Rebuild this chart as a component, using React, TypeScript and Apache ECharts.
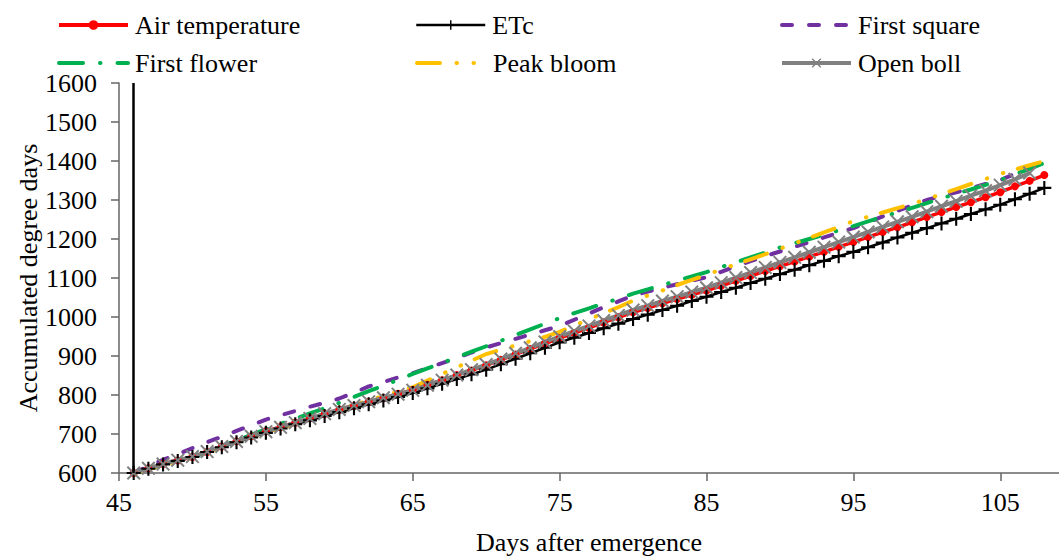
import React, { useEffect, useRef } from "react";
import * as echarts from "echarts";

const days = [
  46, 47, 48, 49, 50, 51, 52, 53, 54, 55, 56, 57, 58, 59, 60, 61, 62, 63, 64, 65, 66,
  67, 68, 69, 70, 71, 72, 73, 74, 75, 76, 77, 78, 79, 80, 81, 82, 83, 84, 85, 86, 87,
  88, 89, 90, 91, 92, 93, 94, 95, 96, 97, 98, 99, 100, 101, 102, 103, 104, 105, 106,
  107, 108,
];

const airTemperature = [
  600, 612, 623, 632, 641, 654, 668, 681, 694, 707, 718, 729, 740, 751, 762, 772, 782,
  792, 803, 813, 826, 838, 851, 863, 876, 890, 904, 918, 932, 946, 959, 972, 986, 999,
  1012, 1023, 1035, 1046, 1057, 1068, 1080, 1093, 1105, 1118, 1130, 1142, 1155, 1167,
  1180, 1192, 1205, 1218, 1230, 1243, 1256, 1269, 1282, 1294, 1307, 1320, 1335, 1349,
  1364,
];

const etc = [
  600, 611, 622, 631, 641, 654, 666, 679, 691, 703, 714, 725, 735, 746, 756, 766, 776,
  786, 795, 805, 817, 829, 841, 853, 865, 879, 893, 907, 921, 935, 947, 959, 971, 983,
  995, 1006, 1018, 1029, 1041, 1052, 1064, 1075, 1087, 1098, 1110, 1121, 1133, 1144,
  1156, 1167, 1179, 1191, 1204, 1216, 1228, 1240, 1252, 1264, 1276, 1288, 1302, 1316,
  1331,
];

const firstSquare = [
  600, 617, 634, 648, 664, 679, 693, 708, 722, 737, 748, 759, 770, 780, 791, 806, 822,
  833, 845, 856, 869, 882, 895, 909, 922, 933, 944, 955, 966, 977, 993, 1009, 1025,
  1040, 1055, 1065, 1075, 1084, 1093, 1102, 1116, 1130, 1143, 1156, 1168, 1180, 1192,
  1204, 1216, 1228, 1243, 1258, 1272, 1286, 1300, 1310, 1320, 1330, 1341, 1351, 1367,
  1383, 1398,
];

const firstFlower = [
  600, 610, 620, 630, 640, 654, 669, 683, 698, 712, 726, 739, 753, 766, 780, 795, 810,
  824, 839, 854, 868, 882, 897, 911, 925, 939, 954, 968, 983, 997, 1010, 1022, 1035,
  1047, 1060, 1071, 1082, 1093, 1104, 1115, 1128, 1140, 1153, 1165, 1178, 1189, 1200,
  1211, 1222, 1233, 1245, 1257, 1268, 1280, 1292, 1304, 1316, 1327, 1339, 1351, 1366,
  1380, 1395,
];

const peakBloom = [
  600, 610, 620, 630, 640, 653, 666, 679, 692, 705, 716, 727, 739, 750, 762, 774, 786,
  798, 809, 820, 837, 854, 871, 888, 905, 916, 927, 938, 949, 962, 978, 994, 1010, 1025,
  1042, 1055, 1068, 1082, 1095, 1108, 1122, 1135, 1148, 1161, 1175, 1189, 1203, 1217,
  1231, 1246, 1257, 1268, 1279, 1290, 1302, 1315, 1328, 1341, 1354, 1367, 1378, 1389,
  1400,
];

const openBoll = [
  600, 612, 623, 633, 642, 655, 668, 681, 694, 706, 717, 729, 740, 752, 763, 773, 783,
  793, 802, 812, 825, 838, 851, 865, 878, 892, 907, 921, 936, 950, 964, 977, 991, 1004,
  1018, 1029, 1041, 1052, 1064, 1075, 1088, 1101, 1114, 1127, 1140, 1153, 1166, 1179,
  1192, 1205, 1218, 1231, 1244, 1257, 1270, 1284, 1297, 1311, 1324, 1338, 1353, 1369,
];

const xTicks = [45, 55, 65, 75, 85, 95, 105];
const markerDay = 46;

const FONT = "Liberation Serif";

const PLUS =
  "path://M-0.15,-1L0.15,-1L0.15,1L-0.15,1Z M-1,-0.15L1,-0.15L1,0.15L-1,0.15Z";
const CROSS =
  "path://M-0.8,-1L1,0.8L0.8,1L-1,-0.8Z M0.8,-1L1,-0.8L-0.8,1L-1,0.8Z";

function pairs(vals: number[]) {
  return vals.map((v, i) => [days[i], v]);
}

export default function App() {
  const ref = useRef<HTMLDivElement>(null);

  useEffect(() => {
    if (!ref.current) return;
    const chart = echarts.init(ref.current, null, { renderer: "svg" });

    const legendItem = (
      name: string,
      left: number,
      top: number,
      hideSymbol: boolean,
      lineWidth: number
    ) => ({
      left,
      top,
      padding: 0,
      itemGap: 0,
      itemWidth: 69,
      itemHeight: 12,
      selectedMode: false,
      textStyle: { fontSize: 26, fontFamily: FONT, color: "#000", padding: [0, 0, 0, 2] },
      data: [
        hideSymbol
          ? { name, itemStyle: { opacity: 0 }, lineStyle: { width: lineWidth } }
          : { name, lineStyle: { width: lineWidth } },
      ],
    });

    const option: any = {
      animation: false,
      backgroundColor: "#fff",
      textStyle: { fontFamily: FONT },
      legend: [
        legendItem("Air temperature", 57, 12, false, 4),
        legendItem("ETc", 415, 12, false, 2.5),
        legendItem("First square", 780, 12, true, 4),
        legendItem("First flower", 57, 50, true, 4),
        legendItem("Peak bloom", 415, 50, true, 4),
        legendItem("Open boll", 780, 50, false, 4),
      ],
      grid: { left: 119, right: 0, top: 83, bottom: 83, outerBoundsMode: "none" },
      xAxis: {
        type: "value",
        min: 45,
        max: 109,
        interval: 10,
        name: "Days after emergence",
        nameLocation: "middle",
        nameGap: 56,
        nameMoveOverlap: false,
        nameTextStyle: { fontSize: 26, fontFamily: FONT, color: "#000" },
        splitLine: { show: false },
        axisLine: { show: true, lineStyle: { color: "#666", width: 1.5 } },
        axisTick: {
          show: true,
          inside: false,
          length: 8,
          customValues: xTicks,
          lineStyle: { color: "#666", width: 1.5 },
        },
        axisLabel: {
          customValues: xTicks,
          margin: 16,
          fontSize: 26,
          fontFamily: FONT,
          color: "#000",
        },
      },
      yAxis: {
        type: "value",
        min: 600,
        max: 1600,
        interval: 100,
        name: "Accumulated degree days",
        nameLocation: "middle",
        nameGap: 78,
        nameMoveOverlap: false,
        nameTextStyle: { fontSize: 26, fontFamily: FONT, color: "#000" },
        splitLine: { show: false },
        axisLine: { show: true, lineStyle: { color: "#666", width: 1.5 } },
        axisTick: { show: true, inside: false, length: 8, lineStyle: { color: "#666", width: 1.5 } },
        axisLabel: {
          margin: 22,
          fontSize: 26,
          fontFamily: FONT,
          color: "#000",
          formatter: (v: number) => String(v),
        },
      },
      series: [
        {
          name: "Air temperature",
          type: "line",
          data: pairs(airTemperature),
          symbol: "circle",
          symbolSize: 8,
          itemStyle: { color: "#FF0000" },
          lineStyle: { color: "#FF0000", width: 3.5 },
          markLine: {
            silent: true,
            symbol: ["none", "none"],
            label: { show: false },
            lineStyle: { color: "#000", width: 2.5, type: "solid" },
            data: [{ xAxis: markerDay }],
          },
        },
        {
          name: "ETc",
          type: "line",
          data: pairs(etc),
          symbol: PLUS,
          symbolSize: 14,
          itemStyle: { color: "#000" },
          lineStyle: { color: "#000", width: 2.5 },
        },
        {
          name: "First square",
          type: "line",
          data: pairs(firstSquare),
          symbol: "none",
          itemStyle: { color: "#7030A0" },
          lineStyle: { color: "#7030A0", width: 4, type: [10, 17], cap: "round" },
        },
        {
          name: "First flower",
          type: "line",
          data: pairs(firstFlower),
          symbol: "none",
          itemStyle: { color: "#00B050" },
          lineStyle: { color: "#00B050", width: 4, type: [24, 17, 0.5, 17], cap: "round" },
        },
        {
          name: "Peak bloom",
          type: "line",
          data: pairs(peakBloom),
          symbol: "none",
          itemStyle: { color: "#FFC000" },
          lineStyle: {
            color: "#FFC000",
            width: 4,
            type: [23, 16.5, 0.5, 16.5, 0.5, 15],
            cap: "round",
          },
        },
        {
          name: "Open boll",
          type: "line",
          data: pairs(openBoll),
          symbol: CROSS,
          symbolSize: 14,
          itemStyle: { color: "#808080" },
          lineStyle: { color: "#808080", width: 4 },
        },
      ],
    };

    chart.setOption(option);
    return () => chart.dispose();
  }, []);

  return (
    <div
      ref={ref}
      style={{ position: "absolute", left: 0, top: 0, width: 1059, height: 556, background: "#fff" }}
    />
  );
}
